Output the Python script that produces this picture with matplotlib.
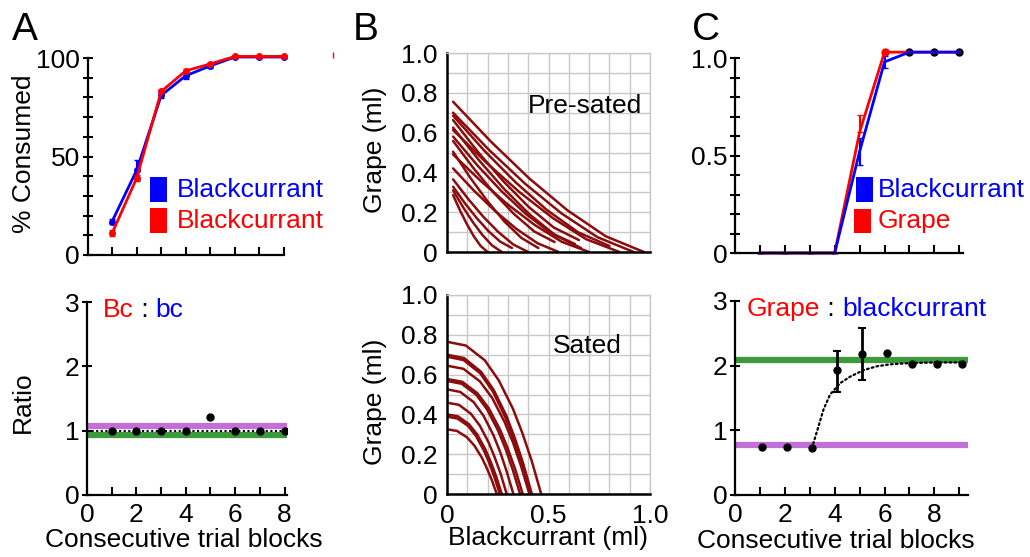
import matplotlib
matplotlib.use('Agg')
import matplotlib.pyplot as plt
from matplotlib.patches import Rectangle
import numpy as np

plt.rcParams['font.family'] = ['Liberation Sans', 'DejaVu Sans']
plt.rcParams['font.size'] = 19

W, H = 1030, 557
BLUE = '#0000ff'
RED = '#ff0000'
GREEN = '#3c9a3c'
PURPLE = '#c26fd8'
CURVE = '#8b0c0c'
GRID = '#c8c8c8'

# ---- panel A top: % consumed per trial block
a_blocks = [1, 2, 3, 4, 5, 6, 7, 8]
a_blue = [17, 43, 81, 91, 96, 100.5, 100.5, 100.5]
a_blue_err = [1.5, 5, 1.5, 1.5, 1, 0.5, 0.5, 0.5]
a_red = [11, 39, 83, 93.5, 97, 100.8, 100.8, 100.8]
a_red_err = [1.5, 1.5, 1, 1, 0.5, 0.3, 0.3, 0.3]
a_stray_x = [10]
a_stray_y = [101.5]

# ---- panel A bottom: ratio
a_ratio = [1.0, 1.0, 1.0, 1.0, 1.22, 1.0, 1.0, 1.0]
a_purple = 1.07
a_green = 0.93
a_fit = 1.0

# ---- panel B top: pre-sated indifference curves (blackcurrant, grape)
b_top_x = [
    [.03, .218, .406, .594, .782, .97],
    [.03, .208, .386, .564, .742, .92],
    [.03, .184, .338, .492, .646, .80],
    [.03, .154, .278, .402, .526, .65],
    [.03, .156, .282, .408, .534, .66],
    [.03, .194, .358, .522, .686, .85],
    [.03, .15, .27, .39, .51, .63],
    [.03, .13, .23, .33, .43, .53],
    [.03, .114, .198, .282, .366, .45],
    [.03, .164, .298, .432, .566, .70],
    [.03, .134, .238, .342, .446, .55],
    [.03, .104, .178, .252, .326, .40],
    [.03, .088, .146, .204, .262, .32],
    [.03, .078, .126, .174, .222, .27],
    [.03, .064, .098, .132, .166, .20],
]
b_top_y = [
    [.755, .553, .369, .209, .079, 0],
    [.70, .512, .342, .194, .074, 0],
    [.685, .509, .35, .211, .099, .03],
    [.663, .501, .355, .227, .123, .06],
    [.625, .463, .316, .188, .084, .02],
    [.613, .449, .30, .17, .064, 0],
    [.58, .435, .304, .19, .097, .04],
    [.558, .422, .298, .191, .103, .05],
    [.504, .374, .257, .154, .071, .02],
    [.49, .359, .24, .136, .051, 0],
    [.42, .307, .205, .116, .044, 0],
    [.365, .267, .178, .101, .038, 0],
    [.328, .245, .171, .105, .052, .02],
    [.31, .227, .152, .086, .033, 0],
    [.286, .209, .14, .079, .03, 0],
]

# ---- panel B bottom: sated indifference curves
b_bot_x = [
    [0, .093, .186, .255, .325, .371, .418, .464],
    [0, .084, .167, .23, .293, .334, .376, .418],
    [0, .082, .164, .226, .287, .328, .369, .41],
    [0, .081, .162, .223, .284, .325, .365, .406],
    [0, .075, .149, .205, .261, .298, .336, .373],
    [0, .072, .144, .198, .252, .288, .324, .36],
    [0, .065, .131, .18, .229, .262, .294, .327],
    [0, .059, .118, .162, .206, .235, .265, .294],
    [0, .054, .108, .149, .189, .216, .243, .27],
    [0, .052, .104, .143, .182, .208, .234, .26],
    [0, .049, .098, .135, .172, .196, .221, .245],
]
b_bot_y = [
    [.765, .746, .672, .571, .428, .307, .164, 0],
    [.70, .683, .615, .523, .392, .281, .151, 0],
    [.69, .673, .606, .515, .386, .277, .148, 0],
    [.645, .629, .566, .482, .361, .259, .139, 0],
    [.578, .564, .507, .432, .324, .232, .124, 0],
    [.568, .554, .499, .424, .318, .228, .122, 0],
    [.526, .513, .462, .393, .295, .211, .113, 0],
    [.459, .448, .403, .343, .257, .184, .099, 0],
    [.40, .39, .351, .299, .224, .16, .086, 0],
    [.389, .379, .342, .291, .218, .156, .084, 0],
    [.325, .317, .285, .243, .182, .13, .07, 0],
]

# ---- panel C top: choice probability
c_blocks = [1, 2, 3, 4, 5, 6, 7, 8, 9]
c_blue = [0, 0, 0, 0, 0.52, 0.98, 1.03, 1.03, 1.03]
c_blue_err = [0, 0, 0, 0, 0.07, 0.03, 0, 0, 0]
c_red = [0, 0, 0, 0, 0.62, 1.03, 1.03, 1.03, 1.03]
c_red_err = [0, 0, 0, 0, 0.09, 0, 0, 0, 0]
c_black_x = [7, 8, 9]
c_black_y = [1.03, 1.03, 1.03]

# ---- panel C bottom: ratio
c_ratio_x = [1.1, 2.1, 3.1, 4.1, 5.1, 6.1, 7.1, 8.1, 9.1]
c_ratio = [0.74, 0.74, 0.73, 1.93, 2.18, 2.19, 2.03, 2.03, 2.03]
c_ratio_lo = [0, 0, 0, 0.34, 0.40, 0, 0, 0, 0]
c_ratio_hi = [0, 0, 0, 0.30, 0.40, 0, 0, 0, 0]
c_fit_x = [3.08, 3.35, 3.55, 3.81, 4.22, 4.62, 5.15, 5.69, 6.2, 7.0, 8.0, 9.2]
c_fit_y = [0.72, 1.06, 1.32, 1.55, 1.73, 1.83, 1.93, 1.99, 2.02, 2.04, 2.05, 2.05]
c_green = 2.08
c_purple = 0.77


def px_axes(fig, left, top, right, bottom):
    return fig.add_axes([left / W, 1 - bottom / H, (right - left) / W, (bottom - top) / H])


def style_line_axes(ax):
    for s in ['top', 'right']:
        ax.spines[s].set_visible(False)
    for s in ['left', 'bottom']:
        ax.spines[s].set_linewidth(1.6)
    ax.tick_params(axis='y', which='both', direction='inout', length=7, width=1.5, pad=2)
    ax.tick_params(axis='x', which='both', direction='in', length=6, width=1.5, pad=6)


def style_grid_axes(ax):
    ax.set_xlim(0, 1)
    ax.set_ylim(0, 1)
    ax.set_xticks(np.arange(0, 1.01, 0.5))
    ax.set_xticks(np.arange(0, 1.01, 0.1), minor=True)
    ax.set_yticks(np.arange(0, 1.01, 0.2))
    ax.set_yticks(np.arange(0, 1.01, 0.1), minor=True)
    ax.set_yticklabels(['0', '0.2', '0.4', '0.6', '0.8', '1.0'])
    ax.grid(which='both', color=GRID, lw=1)
    ax.set_axisbelow(True)
    for s in ['top', 'right']:
        ax.spines[s].set_color(GRID)
        ax.spines[s].set_linewidth(1)
    for s in ['left', 'bottom']:
        ax.spines[s].set_linewidth(1.8)
    ax.tick_params(which='both', length=0, pad=7)


def multicolor(ax, x, y, parts):
    t = ax.text(x, y, parts[0][0], color=parts[0][1], transform=ax.figure.transFigure,
                va='baseline', ha='left')
    for s, c in parts[1:]:
        t = ax.annotate(s, xy=(1, 0), xycoords=t, va='bottom', ha='left', color=c,
                        annotation_clip=False)


def legend_box(fig, x, y, w, h, color):
    fig.add_artist(Rectangle((x / W, 1 - (y + h) / H), w / W, h / H,
                             transform=fig.transFigure, color=color, lw=0))


fig = plt.figure(figsize=(W / 100, H / 100), dpi=100)

# ---------------- A top
ax = px_axes(fig, 87.5, 58, 284, 255)
style_line_axes(ax)
ax.errorbar(a_blocks, a_blue, yerr=a_blue_err, color=BLUE, lw=2, marker='o', ms=4,
            capsize=2.5, elinewidth=1.5, clip_on=False, zorder=1.9)
ax.errorbar(a_blocks, a_red, yerr=a_red_err, color=RED, lw=2, marker='o', ms=4,
            capsize=2.5, elinewidth=1.5, clip_on=False)
ax.plot(a_stray_x, a_stray_y, marker='|', color=RED, ms=4, ls='none', clip_on=False)
ax.set_xlim(0, 8)
ax.set_ylim(0, 100)
ax.set_xticks(a_blocks)
ax.set_xticklabels([])
ax.set_yticks([0, 50, 100])
ax.set_yticks(np.arange(0, 101, 10), minor=True)

legend_box(fig, 150, 177, 17, 25, BLUE)
legend_box(fig, 150, 208, 17, 25, RED)
fig.text(177 / W, 1 - 190 / H, 'Blackcurrant', color=BLUE, va='center')
fig.text(177 / W, 1 - 221 / H, 'Blackcurrant', color=RED, va='center')

# ---------------- A bottom
ax = px_axes(fig, 87, 302, 287, 495)
style_line_axes(ax)
ax.axhline(a_purple, color=PURPLE, lw=4.5, zorder=1)
ax.axhline(a_green, color=GREEN, lw=4.5, zorder=1)
ax.axhline(a_fit, color='black', lw=1.5, ls=(0, (1, 1.2)), zorder=2)
ax.plot(a_blocks, a_ratio, 'o', color='black', ms=5, zorder=3)
ax.set_xlim(0, 8.1)
ax.set_ylim(0, 3)
ax.set_xticks([0, 2, 4, 6, 8])
ax.set_xticks([1, 3, 5, 7], minor=True)
ax.set_yticks([0, 1, 2, 3])
multicolor(ax, 103 / W, 1 - 317 / H, [('Bc', RED), (' : ', 'black'), ('bc', BLUE)])

# ---------------- B top
ax = px_axes(fig, 447, 53, 650, 252)
style_grid_axes(ax)
for xs, ys in zip(b_top_x, b_top_y):
    ax.plot(xs, ys, color=CURVE, lw=1.8, solid_capstyle='round', solid_joinstyle='round')
ax.set_xticklabels([])
ax.text(0.40, 0.70, 'Pre-sated')

# ---------------- B bottom
ax = px_axes(fig, 447, 295, 650, 494)
style_grid_axes(ax)
for xs, ys in zip(b_bot_x, b_bot_y):
    ax.plot(xs, ys, color=CURVE, lw=1.8, solid_capstyle='round', solid_joinstyle='round')
ax.set_xticklabels(['0', '0.5', '1.0'])
ax.text(0.52, 0.71, 'Sated')

# ---------------- C top
ax = px_axes(fig, 735, 58, 963, 253)
style_line_axes(ax)
ax.errorbar(c_blocks, c_red, yerr=[[0] * 9, c_red_err], color=RED, lw=2,
            capsize=2.5, elinewidth=1.5, clip_on=False)
ax.errorbar(c_blocks, c_blue, yerr=c_blue_err, color=BLUE, lw=2, capsize=2.5,
            elinewidth=1.5, clip_on=False)
ax.plot(c_black_x, c_black_y, 'o', color='black', ms=5, clip_on=False)
ax.plot(c_blocks[5:6], c_red[5:6], 'o', color=RED, ms=5, clip_on=False)
ax.set_xlim(0, 9.15)
ax.set_ylim(0, 1)
ax.set_xticks(c_blocks)
ax.set_xticklabels([])
ax.set_yticks([0, 0.5, 1.0])
ax.set_yticklabels(['0', '0.5', '1.0'])
ax.set_yticks(np.arange(0, 1.01, 0.1), minor=True)

legend_box(fig, 856, 177, 17, 25, BLUE)
legend_box(fig, 854, 209, 17, 24, RED)
fig.text(878 / W, 1 - 190 / H, 'Blackcurrant', color=BLUE, va='center')
fig.text(878 / W, 1 - 221 / H, 'Grape', color=RED, va='center')

# ---------------- C bottom
ax = px_axes(fig, 735, 301, 968, 495)
style_line_axes(ax)
ax.axhline(c_green, color=GREEN, lw=4.5, zorder=1)
ax.axhline(c_purple, color=PURPLE, lw=4.5, zorder=1)
ax.plot(c_fit_x, c_fit_y, color='black', lw=1.6, ls=(0, (0.8, 1.4)),
        dash_capstyle='round', zorder=2)
ex = [x for x, lo in zip(c_ratio_x, c_ratio_lo) if lo > 0]
ey = [y for y, lo in zip(c_ratio, c_ratio_lo) if lo > 0]
elo = [lo for lo in c_ratio_lo if lo > 0]
ehi = [hi for hi in c_ratio_hi if hi > 0]
ax.errorbar(ex, ey, yerr=[elo, ehi], fmt='none', ecolor='black', elinewidth=2,
            capsize=3, capthick=1.5, zorder=3)
ax.plot(c_ratio_x, c_ratio, 'o', color='black', ms=5, zorder=4)
ax.set_xlim(0, 9.35)
ax.set_ylim(0, 3)
ax.set_xticks([0, 2, 4, 6, 8])
ax.set_xticks([1, 3, 5, 7, 9], minor=True)
ax.set_yticks([0, 1, 2, 3])
multicolor(ax, 747 / W, 1 - 316 / H,
           [('Grape', RED), (' : ', 'black'), ('blackcurrant', BLUE)])

# ---------------- labels
fig.text(12 / W, 1 - 40 / H, 'A', fontsize=28, va='baseline')
fig.text(353 / W, 1 - 40 / H, 'B', fontsize=28, va='baseline')
fig.text(692 / W, 1 - 40 / H, 'C', fontsize=28, va='baseline')

fig.text(24 / W, 1 - 154 / H, '% Consumed', rotation=90, ha='center', va='center')
fig.text(23 / W, 1 - 402 / H, 'Ratio', rotation=90, ha='center', va='center')
fig.text(375 / W, 1 - 150 / H, 'Grape (ml)', rotation=90, ha='center', va='center')
fig.text(375 / W, 1 - 402 / H, 'Grape (ml)', rotation=90, ha='center', va='center')
fig.text(548 / W, 1 - 538 / H, 'Blackcurrant (ml)', ha='center', va='center')
fig.text(184 / W, 1 - 540 / H, 'Consecutive trial blocks', ha='center', va='center')
fig.text(836 / W, 1 - 541 / H, 'Consecutive trial blocks', ha='center', va='center')

fig.savefig('out.png', dpi=100)
